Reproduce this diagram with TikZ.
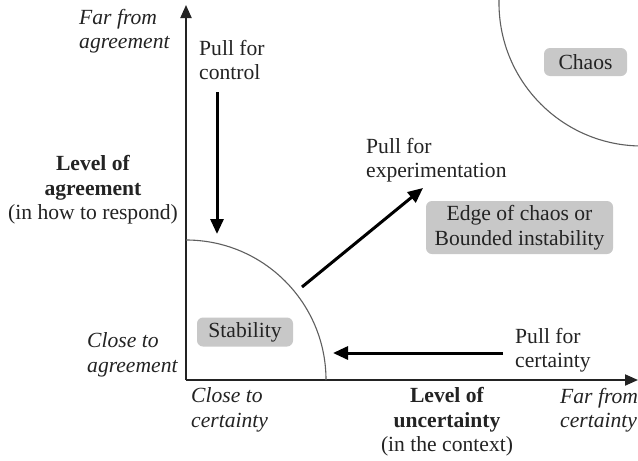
\documentclass[tikz,border=0pt]{standalone}
\usepackage{fontspec}
\setmainfont{Liberation Serif}
\usetikzlibrary{arrows.meta}
\definecolor{inkgray}{RGB}{35,35,35}
\definecolor{boxgray}{RGB}{200,200,200}
\definecolor{arcgray}{RGB}{95,95,95}
\tikzset{
  lbl/.style={inner sep=0pt, text=inkgray, font=\fontsize{21.6}{24.5}\selectfont},
  axislbl/.style={lbl, font=\fontsize{21.6}{24.5}\selectfont\itshape},
  titlelbl/.style={lbl, align=center},
  region/.style={lbl, fill=boxgray, rounded corners=6pt, align=center},
  axisline/.style={line width=2pt, draw=inkgray, -{Triangle[length=13pt,width=11pt]}},
  pull/.style={line width=3pt, -{Triangle[length=15pt,width=13pt]}},
  zone/.style={line width=1.1pt, draw=arcgray}
}
\begin{document}
\begin{tikzpicture}[x=1pt,y=-1pt]
\useasboundingbox (0,0) rectangle (638,461);
\fill[white] (0,0) rectangle (638,461);

% axes
\coordinate (o) at (186,380);
\coordinate (ytop) at (186,5);
\coordinate (xend) at (638,380);
\draw[axisline] (o) -- (ytop);
\draw[axisline] (o) -- (xend);

% region boundaries
\draw[zone] (326,380) arc (0:-90:140);
\begin{scope}
  \clip (0,0) rectangle (638,461);
  \draw[zone] (642,3) circle (143);
\end{scope}

% regions
\node[region, minimum width=96pt, minimum height=29pt] (stab) at (245,332) {Stability};
\node[region, minimum width=187pt, minimum height=53pt] (edge) at (519.5,227.5)
  {Edge of chaos or\\Bounded instability};
\node[region, minimum width=83pt, minimum height=28pt] (chaos) at (585.5,62) {Chaos};

% pulls
\node[lbl, anchor=west, align=left] (pctl) at (199,60) {Pull for\\control};
\coordinate (c1) at (217,92);
\coordinate (c2) at (217,234);
\draw[pull] (c1) -- (c2);

\node[lbl, anchor=west, align=left] (pexp) at (366,160) {Pull for\\experimentation};
\coordinate (e1) at (302,287);
\coordinate (e2) at (423,188);
\draw[pull] (e1) -- (e2);

\node[lbl, anchor=west, align=left] (pcert) at (515,350) {Pull for\\certainty};
\coordinate (r1) at (503,353);
\coordinate (r2) at (333,353);
\draw[pull] (r1) -- (r2);

% axis labels
\node[axislbl, anchor=west, align=left] (farag) at (79,31) {Far from\\agreement};
\node[titlelbl] (levag) at (93,190) {\textbf{Level of}\\\textbf{agreement}\\(in how to respond)};
\node[axislbl, anchor=west, align=left] (closeag) at (87,355) {Close to\\agreement};
\node[axislbl, anchor=west, align=left] (closecert) at (191,410) {Close to\\certainty};
\node[titlelbl] (levunc) at (447,422) {\textbf{Level of}\\\textbf{uncertainty}\\(in the context)};
\node[axislbl, anchor=west, align=left] (farcert) at (560,410) {Far from\\certainty};
\end{tikzpicture}
\end{document}
